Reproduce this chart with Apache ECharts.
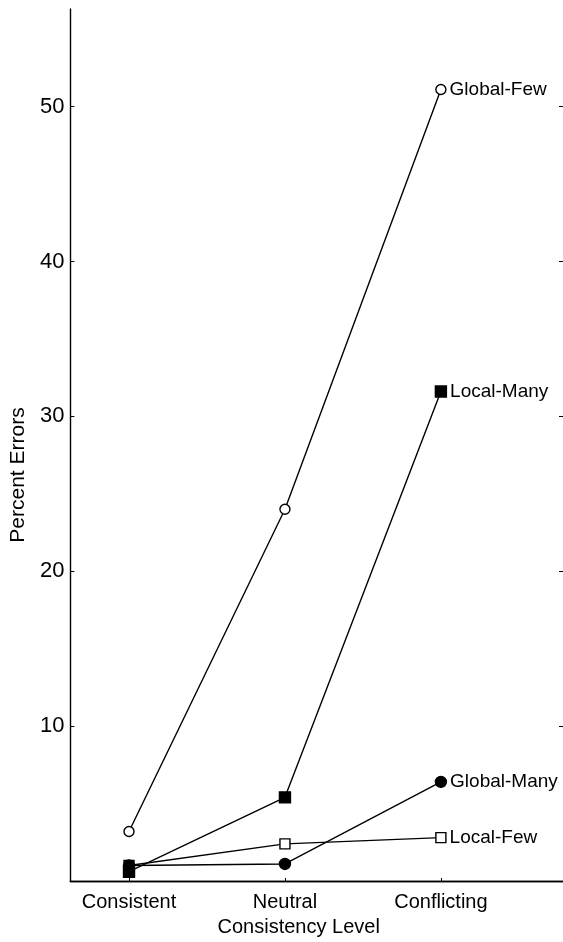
<!DOCTYPE html>
<html><head><meta charset="utf-8">
<script src="https://cdn.jsdelivr.net/npm/echarts@6/dist/echarts.min.js"></script>
<style>html,body{margin:0;padding:0;background:#fff}#c{width:563px;height:942px}</style>
</head><body><div id="c"></div>
<script>
const categories = ['Consistent', 'Neutral', 'Conflicting'];
const catPos = [1, 2, 3];
const yTicks = [10, 20, 30, 40, 50];
const globalFew = [3.2, 24.0, 51.1];
const localMany = [0.6, 5.4, 31.6];
const globalMany = [1.0, 1.1, 6.4];
const localFew = [1.0, 2.4, 2.8];

const FONT = 'Liberation Sans';
function mk(name, vals, symbol, filled, size) {
  return {
    name: name, type: 'line',
    data: vals.map((v, i) => {
      const d = { value: [catPos[i], v] };
      if (i === vals.length - 1) d.label = { show: true, formatter: name, position: 'right', distance: 3,
        color: '#000', fontFamily: FONT, fontSize: 19 };
      return d;
    }),
    symbol: symbol, symbolSize: size, showSymbol: true,
    lineStyle: { color: '#000', width: 1.4 },
    itemStyle: { color: filled ? '#000' : '#fff', borderColor: '#000', borderWidth: 1.4 },
    label: { show: false }, animation: false, z: 3
  };
}
const chart = echarts.init(document.getElementById('c'), null, { renderer: 'canvas' });
chart.setOption({
  backgroundColor: '#fff',
  animation: false,
  grid: { left: 67, right: 0, top: 9, bottom: 57.5, containLabel: false },
  xAxis: [{
    type: 'value', min: 0.624, max: 3.783, position: 'bottom',
    name: 'Consistency Level', nameLocation: 'middle', nameGap: 36,
    nameTextStyle: { color: '#000', fontFamily: FONT, fontSize: 20, padding: [0, 36, 0, 0] },
    axisLine: { show: true, lineStyle: { color: '#000', width: 1.4 } },
    axisTick: { show: true, inside: true, length: 3, customValues: catPos, lineStyle: { color: '#000' } },
    axisLabel: { show: true, customValues: catPos, formatter: v => categories[Math.round(v) - 1] || '',
      color: '#000', fontFamily: FONT, fontSize: 20, margin: 11 },
    splitLine: { show: false }
  }, {
    type: 'value', min: 0.624, max: 3.783, position: 'top',
    axisLine: { show: true, lineStyle: { color: '#000', width: 1.4 } },
    axisTick: { show: false }, axisLabel: { show: false }, splitLine: { show: false }
  }],
  yAxis: [{
    type: 'value', min: 0, max: 56.3, position: 'left',
    name: 'Percent Errors', nameLocation: 'middle', nameGap: 37,
    nameTextStyle: { color: '#000', fontFamily: FONT, fontSize: 21, padding: [0, 0, 0, -60] },
    axisLine: { show: true, lineStyle: { color: '#000', width: 1.4 } },
    axisTick: { show: true, inside: true, length: 4, customValues: yTicks, lineStyle: { color: '#000' } },
    axisLabel: { show: true, customValues: yTicks, color: '#000', fontFamily: FONT, fontSize: 22, margin: 6 },
    splitLine: { show: false }
  }, {
    type: 'value', min: 0, max: 56.3, position: 'right',
    axisLine: { show: false },
    axisTick: { show: true, inside: true, length: 4, customValues: yTicks, lineStyle: { color: '#000' } },
    axisLabel: { show: false }, splitLine: { show: false }
  }],
  series: [
    mk('Global-Few', globalFew, 'circle', false, 10),
    mk('Local-Few', localFew, 'rect', false, 10),
    mk('Global-Many', globalMany, 'circle', true, 11),
    mk('Local-Many', localMany, 'rect', true, 11)
  ]
});
</script></body></html>
